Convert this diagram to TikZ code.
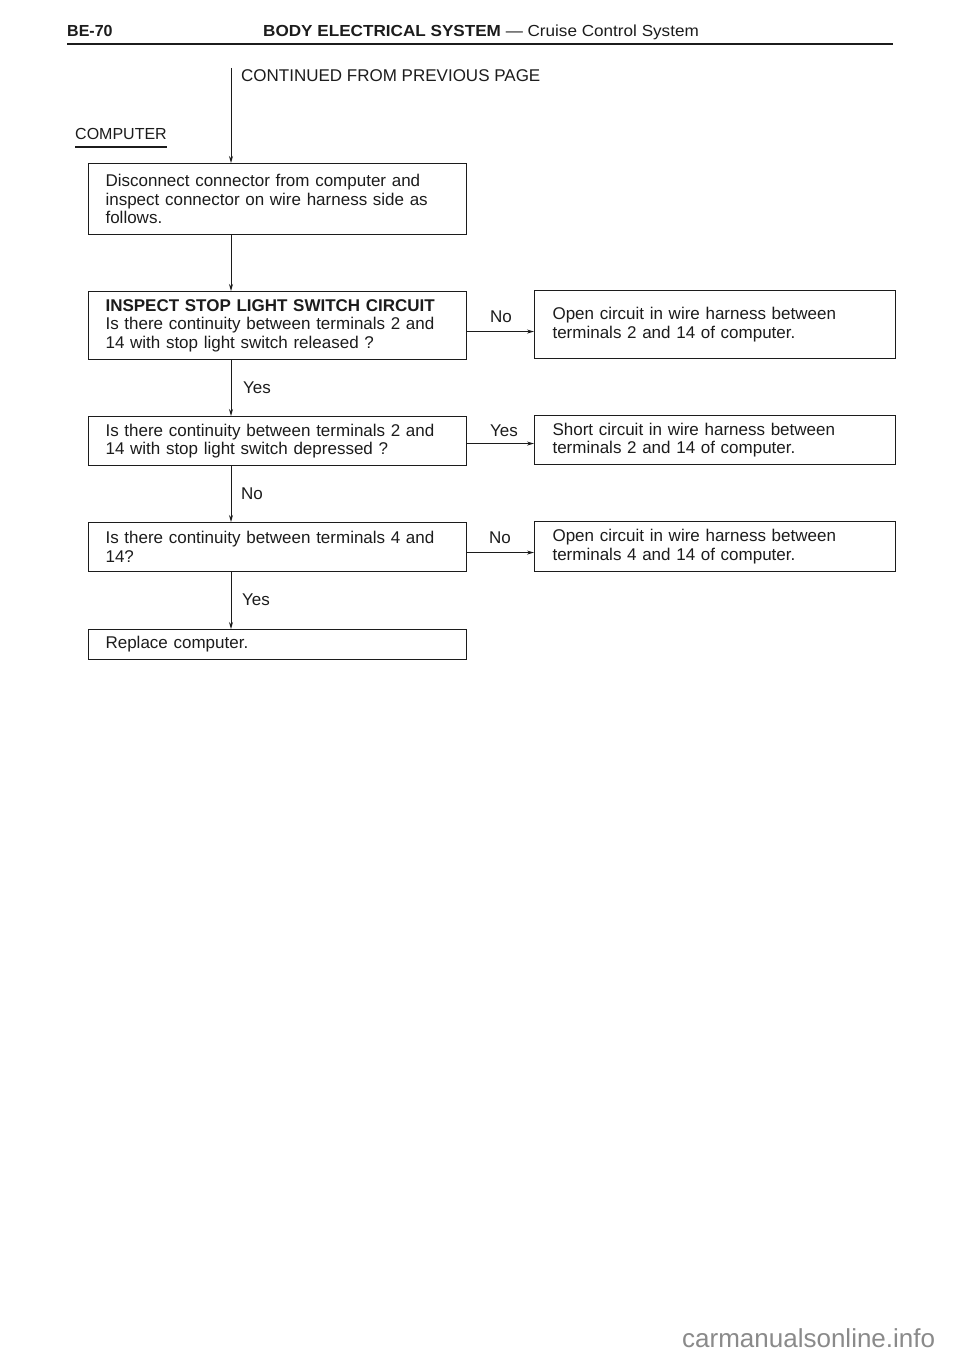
\documentclass[tikz,border=0pt]{standalone}
\usepackage{fontspec}
\setmainfont{Liberation Sans}
\usepackage{graphicx}
\usetikzlibrary{arrows.meta}
\definecolor{ink}{HTML}{1C1C1C}
\definecolor{wm}{HTML}{8A8A8A}
\tikzset{
  txt/.style={font=\fontsize{17}{18.5}\selectfont, text=ink},
  box/.style={txt, draw=ink, line width=1.1pt, anchor=north west, align=left,
              inner xsep=17pt, inner ysep=0pt},
  lbox/.style={box, text width=344pt, minimum width=378pt},
  rbox/.style={box, inner xsep=18pt, text width=325pt, minimum width=361pt},
  flow/.style={draw=ink, line width=0.9pt, -{Stealth[length=7pt,width=4pt]}},
  lab/.style={txt, anchor=base west, inner sep=0pt},
}
\begin{document}
\begin{tikzpicture}[x=1pt,y=-1pt]
\useasboundingbox[fill=white] (0,0) rectangle (960,1356);

% page header
\node[lab, font=\bfseries\fontsize{16}{18}\selectfont] (pg) at (67,37) {BE-70};
\node[lab] (ttl) at (263,37) {\scalebox{1.07}[1]{\fontsize{16}{18}\selectfont\textbf{BODY ELECTRICAL SYSTEM} --- Cruise Control System}};
\draw[ink, line width=2.8pt] (67,44) -- (893,44);

% start
\node[lab] (cont) at (241,82) {CONTINUED FROM PREVIOUS PAGE};
\coordinate (top) at (231,68);
\node[lab, font=\fontsize{16}{18}\selectfont] (comp) at (75,140) {COMPUTER};
\draw[ink, line width=1.8pt] ([yshift=-7pt]comp.base west) -- ([yshift=-7pt]comp.base east);

% left column
\node[lbox, minimum height=71pt] (b1) at (88,163)
  {Disconnect connector from computer and\\inspect connector on wire harness side as\\follows.};
\node[lbox, minimum height=68pt] (b2) at (88,291)
  {\textbf{INSPECT STOP LIGHT SWITCH CIRCUIT}\\Is there continuity between terminals 2 and\\14 with stop light switch released ?};
\node[lbox, minimum height=49pt] (b3) at (88,416)
  {Is there continuity between terminals 2 and\\14 with stop light switch depressed ?};
\node[lbox, minimum height=49pt] (b4) at (88,522)
  {Is there continuity between terminals 4 and\\14?};
\node[lbox, minimum height=30pt] (b5) at (88,629)
  {Replace computer.};

% right column
\node[rbox, minimum height=68pt] (r1) at (534,290)
  {Open circuit in wire harness between\\terminals 2 and 14 of computer.};
\node[rbox, minimum height=49pt] (r2) at (534,415)
  {Short circuit in wire harness between\\terminals 2 and 14 of computer.};
\node[rbox, minimum height=50pt] (r3) at (534,521)
  {Open circuit in wire harness between\\terminals 4 and 14 of computer.};

% vertical connectors
\draw[flow] (top) -- (b1.north -| top);
\draw[flow] (b1.south -| top) -- (b2.north -| top);
\draw[flow] (b2.south -| top) -- (b3.north -| top);
\draw[flow] (b3.south -| top) -- (b4.north -| top);
\draw[flow] (b4.south -| top) -- (b5.north -| top);

% horizontal connectors
\draw[flow] ([yshift=-6pt]b2.east) -- ([yshift=-6pt]b2.east -| r1.west);
\draw[flow] ([yshift=-2.5pt]b3.east) -- ([yshift=-2.5pt]b3.east -| r2.west);
\draw[flow] ([yshift=-5.5pt]b4.east) -- ([yshift=-5.5pt]b4.east -| r3.west);

% connector labels
\node[lab] (l1) at (243,393) {Yes};
\node[lab] (l2) at (241,499) {No};
\node[lab] (l3) at (242,605) {Yes};
\node[lab] (l4) at (490,322) {No};
\node[lab] (l5) at (490,436) {Yes};
\node[lab] (l6) at (489,543) {No};

% watermark
\node[anchor=base west, inner sep=0pt, text=wm, font=\fontsize{26}{28}\selectfont] (wmk) at (682,1347) {carmanualsonline.info};
\end{tikzpicture}
\end{document}
